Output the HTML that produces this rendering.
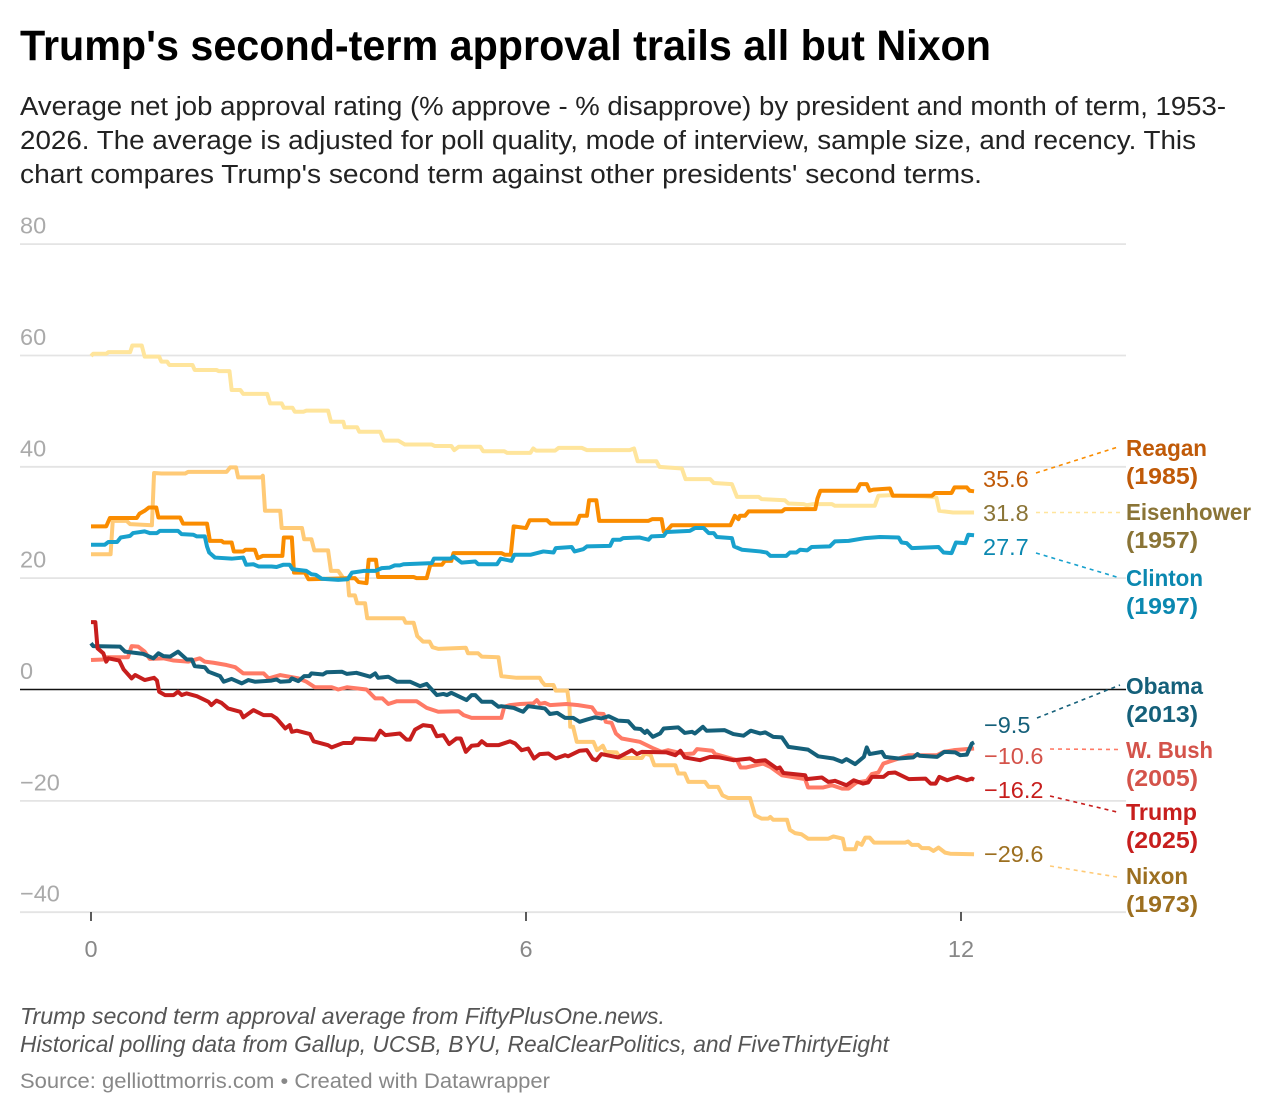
<!DOCTYPE html>
<html lang="en">
<head>
<meta charset="utf-8">
<title>Trump's second-term approval trails all but Nixon</title>
<style>
  html, body { margin: 0; padding: 0; background: #fff; }
  svg { display: block; }
  text { font-family: "Liberation Sans", sans-serif; }
  .name { font-weight: 700; font-size: 23px; }
  .val { font-size: 23.5px; }
  .conn { fill: none; stroke-width: 1.6; stroke-dasharray: 4 4; }
  .series { fill: none; stroke-width: 4; stroke-linejoin: round; stroke-linecap: butt; }
</style>
</head>
<body>
<svg id="chart" xmlns="http://www.w3.org/2000/svg" width="1272" height="1114" viewBox="0 0 1272 1114">
  <rect width="1272" height="1114" fill="#fff"/>

  <text x="20" y="60" font-size="43" font-weight="700" fill="#000" textLength="971" lengthAdjust="spacingAndGlyphs">Trump's second-term approval trails all but Nixon</text>
  <g font-size="25.5" fill="#222">
    <text x="20" y="115" textLength="1206" lengthAdjust="spacingAndGlyphs">Average net job approval rating (% approve - % disapprove) by president and month of term, 1953-</text>
    <text x="20" y="149" textLength="1176" lengthAdjust="spacingAndGlyphs">2026. The average is adjusted for poll quality, mode of interview, sample size, and recency. This</text>
    <text x="20" y="183" textLength="962" lengthAdjust="spacingAndGlyphs">chart compares Trump's second term against other presidents' second terms.</text>
  </g>

  <g id="y-axis"></g>
  <g id="x-axis"></g>
  <g id="lines"></g>

  <g class="val">
    <text x="983" y="487" fill="#c05a08">35.6</text>
    <text x="983" y="521" fill="#8a7436">31.8</text>
    <text x="983" y="555" fill="#0b88b0">27.7</text>
    <text x="984" y="733" fill="#15607a">−9.5</text>
    <text x="984" y="764" fill="#d4534a">−10.6</text>
    <text x="984" y="798" fill="#c71e1d">−16.2</text>
    <text x="984" y="862" fill="#9c6f20">−29.6</text>
  </g>

  <g>
    <line class="conn" x1="1036" y1="473" x2="1118" y2="447" stroke="#fa8c00"/>
    <line class="conn" x1="1036" y1="512.5" x2="1120" y2="512.5" stroke="#ffe59c"/>
    <line class="conn" x1="1036" y1="553" x2="1120" y2="578" stroke="#18a1cd"/>
    <line class="conn" x1="1037" y1="718" x2="1120" y2="685" stroke="#15607a"/>
    <line class="conn" x1="1050" y1="749" x2="1118" y2="749.5" stroke="#ff7a66"/>
    <line class="conn" x1="1050" y1="796" x2="1117" y2="812" stroke="#c71e1d"/>
    <line class="conn" x1="1050" y1="866" x2="1117" y2="877" stroke="#ffca76"/>
  </g>

  <g class="name">
    <g fill="#c05a08"><text x="1126" y="456" textLength="81" lengthAdjust="spacingAndGlyphs">Reagan</text><text x="1126" y="484" textLength="72" lengthAdjust="spacingAndGlyphs">(1985)</text></g>
    <g fill="#8a7436"><text x="1126" y="520" textLength="125" lengthAdjust="spacingAndGlyphs">Eisenhower</text><text x="1126" y="548" textLength="72" lengthAdjust="spacingAndGlyphs">(1957)</text></g>
    <g fill="#0b88b0"><text x="1126" y="586" textLength="77" lengthAdjust="spacingAndGlyphs">Clinton</text><text x="1126" y="614" textLength="72" lengthAdjust="spacingAndGlyphs">(1997)</text></g>
    <g fill="#15607a"><text x="1126" y="694" textLength="77" lengthAdjust="spacingAndGlyphs">Obama</text><text x="1126" y="722" textLength="72" lengthAdjust="spacingAndGlyphs">(2013)</text></g>
    <g fill="#d4534a"><text x="1126" y="758" textLength="87" lengthAdjust="spacingAndGlyphs">W. Bush</text><text x="1126" y="786" textLength="72" lengthAdjust="spacingAndGlyphs">(2005)</text></g>
    <g fill="#c71e1d"><text x="1126" y="820" textLength="71" lengthAdjust="spacingAndGlyphs">Trump</text><text x="1126" y="848" textLength="72" lengthAdjust="spacingAndGlyphs">(2025)</text></g>
    <g fill="#9c6f20"><text x="1126" y="884" textLength="62" lengthAdjust="spacingAndGlyphs">Nixon</text><text x="1126" y="912" textLength="72" lengthAdjust="spacingAndGlyphs">(1973)</text></g>
  </g>

  <g font-size="23" font-style="italic" fill="#555">
    <text x="20" y="1024" textLength="645" lengthAdjust="spacingAndGlyphs">Trump second term approval average from FiftyPlusOne.news.</text>
    <text x="20" y="1052" textLength="869" lengthAdjust="spacingAndGlyphs">Historical polling data from Gallup, UCSB, BYU, RealClearPolitics, and FiveThirtyEight</text>
  </g>
  <text x="20" y="1088" font-size="21" fill="#888" textLength="530" lengthAdjust="spacingAndGlyphs">Source: gelliottmorris.com • Created with Datawrapper</text>
</svg>

<script>
const yTickValues = [80, 60, 40, 20, 0, -20, -40];
const xTickValues = [0, 6, 12];

const eisenhower = [[0,59.9],[.03,60.3],[.21,60.3],[.24,60.6],[.54,60.6],[.57,61.8],[.70,61.8],[.74,59.8],[.94,59.8],[.97,58.9],[1.05,58.9],[1.08,58.3],[1.40,58.3],[1.43,57.4],[1.73,57.4],[1.76,57.2],[1.91,57.2],[1.94,53.8],[2.06,53.8],[2.10,53.1],[2.43,53.1],[2.47,51.4],[2.63,51.4],[2.66,50.6],[2.78,50.6],[2.81,49.9],[2.93,49.9],[2.97,50.1],[3.27,50.1],[3.31,48.1],[3.48,48.1],[3.50,47.1],[3.67,47.1],[3.70,46.3],[3.99,46.3],[4.04,44.7],[4.24,44.7],[4.33,44.0],[4.70,44.0],[4.74,43.75],[4.97,43.75],[5.01,43.0],[5.07,43.6],[5.37,43.6],[5.41,42.8],[5.70,42.8],[5.74,42.5],[6.06,42.5],[6.10,43.3],[6.14,42.9],[6.40,42.9],[6.45,43.4],[6.77,43.4],[6.84,43.0],[7.43,43.0],[7.49,43.3],[7.54,41.0],[7.80,41.0],[7.84,40.0],[8.15,39.7],[8.20,37.8],[8.54,37.8],[8.59,37.1],[8.84,36.9],[8.91,34.6],[9.21,34.6],[9.25,34.2],[9.57,34.0],[9.62,33.4],[9.83,33.3],[9.87,33.1],[9.96,33.3],[10.22,33.3],[10.26,33.0],[10.81,33.0],[10.86,34.8],[11.02,34.9],[11.50,34.7],[11.66,34.5],[11.70,32.1],[11.89,31.8],[12.18,31.8]];

const nixon = [[0,24.3],[.27,24.3],[.30,30.3],[.49,30.3],[.54,29.7],[.84,29.5],[.87,38.9],[.97,38.8],[1.30,38.8],[1.34,39.1],[1.87,39.1],[1.92,39.9],[2.00,39.9],[2.03,38.1],[2.35,38.1],[2.37,38.4],[2.40,32.1],[2.61,32.1],[2.63,29.0],[2.91,29.0],[2.94,27.0],[3.04,27.0],[3.08,25.0],[3.27,25.0],[3.31,21.3],[3.41,21.3],[3.48,20.0],[3.54,20.0],[3.56,16.9],[3.64,16.9],[3.67,15.5],[3.78,15.5],[3.81,12.8],[4.31,12.8],[4.34,12.0],[4.45,12.0],[4.50,9.6],[4.58,8.6],[4.67,8.6],[4.71,7.6],[4.79,7.3],[5.17,7.5],[5.20,6.5],[5.34,6.5],[5.39,5.9],[5.62,5.8],[5.66,2.4],[5.87,2.1],[6.19,2.1],[6.22,1.4],[6.26,.8],[6.38,.8],[6.41,-.2],[6.57,-.2],[6.60,-3.1],[6.61,-6.7],[6.65,-6.7],[6.70,-9.4],[6.93,-9.4],[6.98,-10.9],[7.06,-10.1],[7.10,-11.2],[7.25,-11.3],[7.30,-12.3],[7.60,-12.3],[7.64,-11.5],[7.72,-11.8],[7.77,-13.6],[8.06,-13.6],[8.10,-15.1],[8.19,-15.1],[8.24,-16.6],[8.47,-16.6],[8.52,-17.5],[8.65,-17.5],[8.71,-19.0],[8.79,-19.5],[9.09,-19.5],[9.16,-22.6],[9.25,-23.2],[9.34,-23.2],[9.37,-22.9],[9.41,-23.4],[9.60,-23.4],[9.64,-25.2],[9.71,-25.8],[9.80,-26.0],[9.89,-26.8],[10.17,-26.8],[10.24,-26.4],[10.37,-26.8],[10.40,-28.7],[10.54,-28.7],[10.57,-27.5],[10.63,-27.9],[10.68,-26.6],[10.74,-26.6],[10.80,-27.5],[11.23,-27.5],[11.27,-27.3],[11.32,-27.9],[11.41,-27.9],[11.46,-28.5],[11.56,-28.5],[11.62,-29.0],[11.69,-28.4],[11.78,-29.3],[11.85,-29.5],[12.18,-29.6]];

const bush = [[0,5.3],[.17,5.4],[.22,5.8],[.51,5.8],[.56,7.8],[.65,7.7],[.74,6.8],[.81,5.5],[1.00,5.6],[1.14,5.2],[1.34,5.0],[1.50,5.6],[1.57,5.0],[1.69,4.8],[1.87,4.4],[1.99,4.0],[2.10,2.9],[2.38,2.9],[2.45,2.0],[2.61,2.6],[2.86,2.0],[2.97,1.4],[3.09,.4],[3.32,.4],[3.41,0],[3.53,.4],[3.80,0],[3.92,-1.6],[4.02,-1.6],[4.10,-2.6],[4.22,-2.1],[4.49,-2.1],[4.63,-3.3],[4.79,-4.0],[5.07,-3.9],[5.14,-4.6],[5.25,-5.1],[5.66,-5.1],[5.70,-3.1],[5.78,-2.8],[5.92,-2.6],[6.10,-2.5],[6.15,-1.9],[6.19,-2.6],[6.26,-2.4],[6.33,-2.8],[6.56,-2.6],[6.72,-2.8],[6.91,-3.2],[6.97,-4.3],[7.07,-4.4],[7.10,-5.8],[7.18,-6.0],[7.24,-7.9],[7.32,-8.8],[7.57,-9.4],[7.76,-10.6],[7.87,-11.2],[7.96,-10.9],[8.19,-11.6],[8.31,-11.5],[8.36,-10.7],[8.57,-11.0],[8.61,-11.6],[8.91,-12.7],[8.96,-14.0],[9.04,-14.0],[9.27,-13.3],[9.37,-13.9],[9.53,-15.4],[9.85,-16.1],[9.89,-17.6],[10.10,-17.6],[10.22,-17.2],[10.36,-17.8],[10.45,-17.8],[10.56,-16.7],[10.70,-16.4],[10.77,-15.2],[10.86,-14.9],[10.93,-13.3],[11.14,-12.4],[11.28,-11.8],[11.67,-11.8],[11.76,-11.2],[11.90,-10.9],[12.18,-10.6]];

const reagan = [[0,29.3],[.21,29.3],[.26,30.8],[.63,30.8],[.67,31.6],[.74,32.1],[.80,32.7],[.90,32.7],[.93,30.9],[1.23,30.9],[1.27,29.8],[1.60,29.8],[1.64,26.7],[1.80,26.7],[1.83,26.4],[1.94,26.4],[1.97,24.8],[2.10,24.8],[2.13,25.1],[2.26,25.1],[2.30,23.6],[2.37,24.0],[2.64,24.0],[2.66,27.3],[2.77,27.3],[2.80,21.0],[2.95,21.0],[3.00,19.8],[3.64,20.0],[3.69,19.3],[3.80,19.1],[3.83,23.3],[3.93,23.3],[3.96,20.2],[4.45,20.2],[4.49,20.0],[4.63,20.0],[4.68,22.4],[4.84,22.4],[4.88,23.1],[4.97,23.1],[5.00,24.5],[5.66,24.5],[5.71,24.2],[5.79,24.2],[5.83,29.3],[6.00,29.0],[6.05,30.4],[6.29,30.4],[6.34,29.8],[6.70,29.8],[6.74,31.2],[6.84,31.2],[6.87,34.0],[6.97,34.0],[7.01,30.3],[7.69,30.3],[7.74,30.6],[7.87,30.6],[7.90,28.4],[7.94,28.5],[8.01,29.5],[8.82,29.5],[8.88,31.2],[8.93,30.6],[8.95,31.2],[9.02,31.2],[9.07,32.0],[9.53,32.0],[9.57,32.4],[9.99,32.4],[10.02,34.3],[10.06,35.7],[10.56,35.7],[10.61,36.9],[10.70,36.9],[10.74,35.7],[10.79,35.9],[11.02,36.1],[11.06,34.8],[11.60,34.8],[11.64,35.3],[11.87,35.3],[11.91,36.3],[12.08,36.3],[12.12,35.7],[12.18,35.6]];

const clinton = [[0,26.0],[.19,26.0],[.24,26.5],[.36,26.5],[.41,27.3],[.54,27.6],[.58,28.1],[.74,28.4],[.81,28.1],[.91,28.1],[.95,28.5],[1.20,28.5],[1.25,27.9],[1.41,27.8],[1.46,27.5],[1.57,27.5],[1.60,25.7],[1.63,24.6],[1.71,23.7],[1.94,23.5],[2.10,23.7],[2.14,22.4],[2.24,22.5],[2.31,22.1],[2.49,22.1],[2.56,22.0],[2.65,22.4],[2.74,22.4],[2.78,21.6],[2.97,21.3],[3.04,20.7],[3.10,20.6],[3.18,19.9],[3.41,19.7],[3.54,19.8],[3.60,21.0],[3.76,21.3],[3.92,21.3],[4.01,21.8],[4.12,21.9],[4.19,22.3],[4.26,22.3],[4.31,22.5],[4.70,22.7],[4.73,23.5],[4.96,23.5],[5.00,23.9],[5.11,22.8],[5.30,23.0],[5.34,22.5],[5.60,22.5],[5.65,23.5],[5.80,23.1],[5.84,24.2],[6.06,24.2],[6.24,24.8],[6.38,24.6],[6.41,25.4],[6.63,25.6],[6.67,24.8],[6.79,25.2],[6.84,25.7],[7.16,25.8],[7.20,26.9],[7.30,26.9],[7.34,27.2],[7.57,27.3],[7.69,26.9],[7.73,27.5],[7.90,27.6],[7.94,28.3],[8.26,28.5],[8.33,29.0],[8.45,29.0],[8.52,28.1],[8.59,28.1],[8.63,27.4],[8.84,27.2],[8.87,25.7],[8.98,25.1],[9.23,24.8],[9.32,24.6],[9.37,24.0],[9.59,24.0],[9.64,24.6],[9.73,24.6],[9.78,25.1],[9.88,25.0],[9.94,25.6],[10.19,25.7],[10.26,26.6],[10.45,26.7],[10.68,27.2],[10.88,27.4],[11.14,27.3],[11.18,26.4],[11.25,26.3],[11.32,25.4],[11.69,25.6],[11.76,24.6],[11.87,24.5],[11.93,26.4],[12.06,26.3],[12.10,27.8],[12.18,27.7]];

const obama = [[0,8.3],[.03,7.8],[.40,7.7],[.47,6.8],[.72,6.4],[.86,5.6],[.93,6.5],[1.00,6.0],[1.09,5.9],[1.20,6.8],[1.32,5.4],[1.39,5.4],[1.43,4.2],[1.57,4.0],[1.62,3.2],[1.78,2.4],[1.83,1.4],[1.94,1.9],[2.08,1.1],[2.17,1.7],[2.26,1.4],[2.49,1.6],[2.56,1.8],[2.61,1.4],[2.74,1.5],[2.77,2.0],[2.86,1.5],[2.94,2.4],[3.01,2.4],[3.04,2.9],[3.20,2.7],[3.25,3.1],[3.46,3.2],[3.53,2.8],[3.66,3.0],[3.85,2.3],[3.92,2.9],[3.96,2.1],[4.10,2.3],[4.22,1.4],[4.40,1.4],[4.54,.6],[4.63,1.0],[4.77,-1.0],[4.86,-.8],[4.91,-1.0],[4.97,-.6],[5.18,-1.9],[5.25,-1.0],[5.30,-1.0],[5.39,-2.2],[5.53,-2.2],[5.62,-3.1],[5.66,-3.0],[5.83,-3.3],[5.92,-3.8],[5.96,-4.0],[6.03,-3.0],[6.26,-3.4],[6.33,-4.4],[6.43,-4.2],[6.54,-5.1],[6.65,-5.1],[6.74,-5.8],[6.84,-5.4],[6.95,-5.0],[7.04,-5.2],[7.14,-4.8],[7.27,-5.6],[7.41,-5.7],[7.50,-7.0],[7.58,-7.1],[7.64,-7.8],[7.67,-7.4],[7.75,-8.5],[7.85,-7.9],[7.90,-7.0],[8.10,-6.8],[8.19,-7.8],[8.29,-7.6],[8.33,-7.9],[8.44,-6.7],[8.49,-7.4],[8.74,-7.3],[8.86,-8.0],[9.00,-8.3],[9.10,-7.4],[9.23,-7.9],[9.30,-7.7],[9.41,-8.5],[9.53,-8.6],[9.62,-10.3],[9.89,-10.8],[10.03,-12.0],[10.24,-12.4],[10.36,-13.0],[10.42,-12.5],[10.54,-13.4],[10.66,-12.1],[10.70,-10.4],[10.74,-11.6],[10.91,-11.2],[10.95,-12.1],[11.14,-12.4],[11.34,-12.2],[11.40,-11.6],[11.43,-11.9],[11.67,-12.1],[11.77,-11.2],[11.92,-11.3],[11.99,-11.8],[12.08,-11.7],[12.15,-9.7],[12.18,-9.5]];

const trump = [[0,12.1],[.06,12.1],[.09,7.4],[.17,6.5],[.21,5.0],[.24,5.6],[.39,5.2],[.45,3.6],[.56,2.0],[.61,2.6],[.74,1.7],[.87,2.1],[.91,1.6],[.94,-.4],[1.02,-1.0],[1.14,-1.0],[1.20,-.4],[1.25,-1.0],[1.32,-.7],[1.46,-1.2],[1.62,-2.2],[1.66,-2.8],[1.73,-2.0],[1.80,-2.4],[1.89,-3.4],[2.06,-4.0],[2.10,-5.0],[2.24,-3.7],[2.38,-4.6],[2.49,-4.6],[2.56,-5.2],[2.68,-7.0],[2.74,-6.4],[2.77,-7.6],[2.84,-7.4],[3.02,-8.0],[3.07,-9.3],[3.27,-10.0],[3.32,-10.4],[3.48,-9.6],[3.60,-9.6],[3.64,-8.8],[3.92,-9.0],[3.99,-7.4],[4.06,-8.2],[4.26,-7.9],[4.35,-9.0],[4.40,-9.0],[4.47,-7.2],[4.58,-6.4],[4.70,-6.6],[4.77,-8.4],[4.86,-8.2],[4.94,-9.8],[5.04,-8.8],[5.10,-8.8],[5.17,-11.2],[5.25,-10.1],[5.34,-10.0],[5.39,-9.3],[5.46,-10.0],[5.62,-10.0],[5.78,-9.3],[5.85,-9.7],[5.94,-10.9],[6.03,-10.6],[6.11,-12.4],[6.19,-11.6],[6.31,-11.5],[6.41,-12.4],[6.54,-11.8],[6.58,-12.0],[6.74,-11.0],[6.84,-10.9],[6.92,-12.5],[6.97,-12.7],[7.04,-11.6],[7.27,-12.2],[7.46,-10.9],[7.53,-11.6],[7.60,-11.2],[7.94,-11.3],[8.06,-11.8],[8.13,-11.0],[8.19,-12.2],[8.40,-12.7],[8.54,-12.1],[8.67,-12.2],[8.86,-12.7],[9.09,-12.4],[9.16,-12.9],[9.30,-12.7],[9.46,-14.2],[9.50,-14.0],[9.55,-15.0],[9.85,-15.4],[9.87,-16.1],[10.08,-15.8],[10.17,-16.6],[10.26,-16.4],[10.42,-17.2],[10.52,-16.3],[10.65,-16.9],[10.72,-16.7],[10.77,-15.7],[10.93,-15.7],[11.00,-15.0],[11.09,-14.9],[11.28,-16.1],[11.51,-16.0],[11.58,-16.9],[11.65,-16.9],[11.70,-15.7],[11.81,-16.3],[11.95,-15.7],[12.08,-16.3],[12.15,-16.0],[12.18,-16.2]];

const SVG_NS = 'http://www.w3.org/2000/svg';
function xScale(month) { return 91 + month * 72.5; }
function yScale(net) { return 689.5 - net * 5.567; }
function minusText(v) { return v < 0 ? '\u2212' + Math.abs(v) : String(v); }

const yAxis = document.getElementById('y-axis');
yTickValues.forEach(function (v) {
  const grid = document.createElementNS(SVG_NS, 'line');
  
  
  grid.setAttribute('x1', 20);
  grid.setAttribute('x2', 1126);
  grid.setAttribute('y1', yScale(v));
  grid.setAttribute('y2', yScale(v));
  grid.setAttribute('stroke', v === 0 ? '#111' : '#e4e4e4');
  grid.setAttribute('stroke-width', v === 0 ? 1.6 : 1.8);
  yAxis.appendChild(grid);
  const label = document.createElementNS(SVG_NS, 'text');
  
  
  label.setAttribute('x', 20);
  label.setAttribute('y', yScale(v) - 10.5);
  label.setAttribute('font-size', '23.5');
  label.setAttribute('fill', '#aaa');
  label.textContent = minusText(v);
  yAxis.appendChild(label);
});

const xAxis = document.getElementById('x-axis');
xTickValues.forEach(function (m) {
  const tick = document.createElementNS(SVG_NS, 'line');
  
  
  tick.setAttribute('x1', xScale(m));
  tick.setAttribute('x2', xScale(m));
  tick.setAttribute('y1', 912);
  tick.setAttribute('y2', 921);
  tick.setAttribute('stroke', '#333');
  tick.setAttribute('stroke-width', 1.6);
  xAxis.appendChild(tick);
  const label = document.createElementNS(SVG_NS, 'text');
  
  
  label.setAttribute('x', xScale(m));
  label.setAttribute('y', 957);
  label.setAttribute('text-anchor', 'middle');
  label.setAttribute('font-size', '23.5');
  label.setAttribute('fill', '#888');
  label.textContent = String(m);
  xAxis.appendChild(label);
});

const linesGroup = document.getElementById('lines');
function drawLine(points, color, name) {
  const path = document.createElementNS(SVG_NS, 'path');
  
  
  path.setAttribute('class', 'series');
  path.setAttribute('stroke', color);
  path.setAttribute('d', points.map(function (p, i) {
    return (i ? 'L' : 'M') + xScale(p[0]).toFixed(2) + ' ' + yScale(p[1]).toFixed(2);
  }).join(''));
  linesGroup.appendChild(path);
}
drawLine(eisenhower, '#ffe59c', 'line-eisenhower');
drawLine(nixon, '#ffca76', 'line-nixon');
drawLine(bush, '#ff7a66', 'line-bush');
drawLine(reagan, '#fa8c00', 'line-reagan');
drawLine(clinton, '#18a1cd', 'line-clinton');
drawLine(obama, '#15607a', 'line-obama');
drawLine(trump, '#c71e1d', 'line-trump');
</script>
</body>
</html>
